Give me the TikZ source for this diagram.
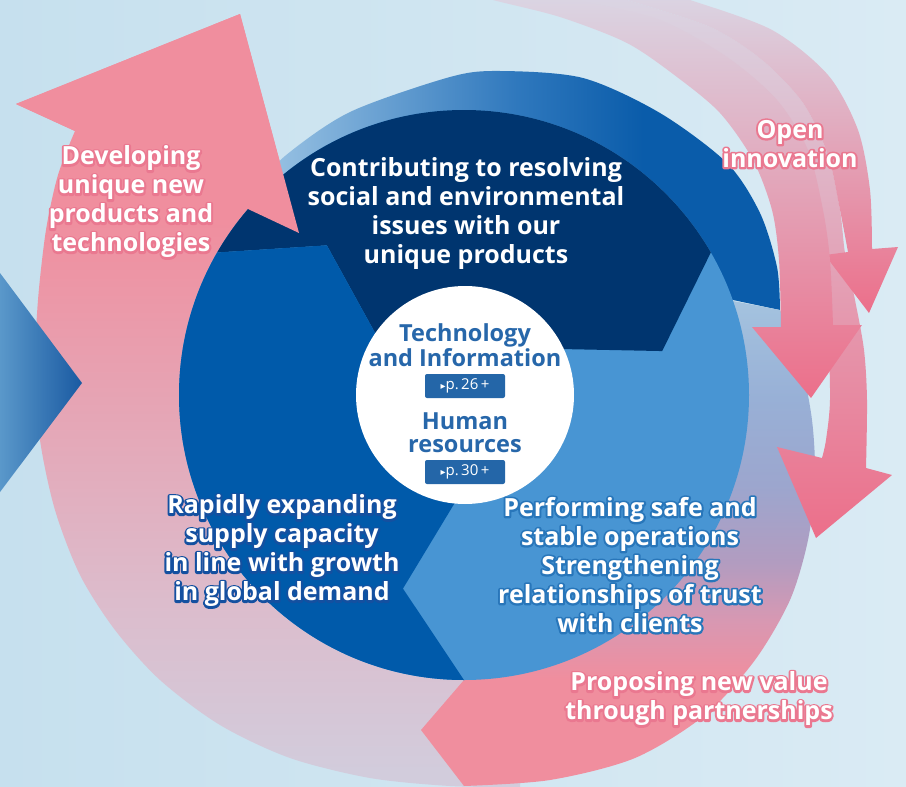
\documentclass[tikz,border=0pt]{standalone}
\usepackage{fontspec}
\setmainfont{Open Sans}
\newfontfamily\dejavu{DejaVu Sans}
\usetikzlibrary{calc}
\definecolor{bgL}{RGB}{198,224,238}
\definecolor{bgR}{RGB}{218,235,244}
\definecolor{navy}{RGB}{0,53,111}
\definecolor{midblue}{RGB}{0,90,170}
\definecolor{lightblue}{RGB}{72,149,211}
\definecolor{pinkA}{RGB}{240,142,158}
\definecolor{lbMid}{RGB}{230,164,180}
\definecolor{lbMid2}{RGB}{220,188,204}
\definecolor{lbLav}{RGB}{210,204,220}
\definecolor{ring1}{RGB}{150,192,226}
\definecolor{ring2}{RGB}{47,120,189}
\definecolor{ring3}{RGB}{10,92,170}
\definecolor{strongpink}{RGB}{236,111,138}
\definecolor{fadepink}{RGB}{218,214,228}
\definecolor{palepink}{RGB}{226,184,201}
\definecolor{midpink}{RGB}{230,160,182}
\definecolor{pr1}{RGB}{240,142,158}
\definecolor{pr2}{RGB}{216,152,178}
\definecolor{pr3}{RGB}{178,156,192}
\definecolor{pr4}{RGB}{156,166,206}
\definecolor{pr5}{RGB}{152,176,214}
\definecolor{pr6}{RGB}{164,195,223}
\definecolor{chevL}{RGB}{90,152,202}
\definecolor{chevR}{RGB}{26,90,162}
\definecolor{ctext}{RGB}{39,103,170}
\definecolor{btn}{RGB}{36,102,168}
\definecolor{glowL}{RGB}{20,80,160}
\definecolor{glowR}{RGB}{40,118,186}
\definecolor{glowP}{RGB}{234,120,144}
\pgfdeclareverticalshading{leftband}{100bp}{color(0bp)=(lbLav); color(26bp)=(lbLav); color(37bp)=(lbMid2); color(50bp)=(lbMid); color(62bp)=(pinkA); color(100bp)=(pinkA)}
\pgfdeclarehorizontalshading{ringsh}{100bp}{color(0bp)=(ring1); color(27bp)=(ring1); color(50bp)=(ring2); color(62bp)=(ring3); color(100bp)=(ring3)}
\pgfdeclareverticalshading{propsh}{100bp}{color(0bp)=(pr1); color(36bp)=(pr1); color(42bp)=(pr2); color(48bp)=(pr3); color(56bp)=(pr4); color(65bp)=(pr5); color(75bp)=(pr6); color(100bp)=(pr6)}
% outlined label: a stroked copy underneath, the white text on top
\newcommand\glowlabel[5]{%
  \node[#4, text=#3] (#1glow) at (#2) {\special{pdf:literal direct 2 Tr 4 w 1 j}#5};
  \node[#4, text=white] (#1) at (#2) {#5};
}
\begin{document}
\begin{tikzpicture}[x=1pt,y=-1pt,
  lbl/.style={align=center, inner sep=0pt, font=\bfseries\fontsize{25}{29}\selectfont},
  ctr/.style={align=center, inner sep=0pt, text=ctext, font=\bfseries\fontsize{23.5}{23}\selectfont},
  btnbox/.style={fill=btn, rounded corners=2pt, minimum width=80pt, minimum height=24pt, inner sep=0pt, text=white, font=\fontsize{15}{15}\selectfont}]
\useasboundingbox (0,0) rectangle (906,787);
\clip (0,0) rectangle (906,787);
\shade[left color=bgL, right color=bgR] (0,0) rectangle (906,787);
\coordinate (C) at (464,395);
% big left band
\shade[shading=leftband] (240,14) -- (299,233) -- (248,209) -- (464,395) -- (520,700) -- (520,787)
  -- plot[smooth] coordinates {(520,787) (450,786) (370,778) (290,758) (220,725) (160,680) (115,630) (80,575) (55,510) (40,440) (35,370) (38,300) (46,230) (58,175) (75,131)}
  -- (16,104) -- cycle;
% top ring
\shade[shading=ringsh] plot[smooth] coordinates {(255,190) (285,156) (350,112) (450,77) (500,71) (583,78) (660,113) (727,163) (760,213) (777,267) (780,310)}
  -- (733,300) -- plot[domain=-19.5:-138, samples=40] ({464+283*cos(\x)},{395+283*sin(\x)}) -- cycle;
% proposing band
\shade[shading=propsh] (421,730) -- (464,680) -- plot[domain=90:-19.5, samples=50] ({464+283*cos(\x)},{395+283*sin(\x)})
  -- (780,310) -- plot[smooth] coordinates {(780,310) (800,360) (812,420) (815,480) (808,540) (790,600) (755,660) (705,715) (635,758) (550,780) (464,786)} -- cycle;
% arrow C
\shade[top color=fadepink, middle color=palepink, bottom color=strongpink]
  plot[smooth] coordinates {(520,-8) (620,10) (700,45) (760,95) (795,150) (812,210) (822,270) (828,330) (830,400) (826,440) (822,458)}
  -- (777,447) -- (816,538) -- (892,475) -- (866,468)
  -- plot[smooth] coordinates {(866,468) (867,400) (864,350) (855,300) (845,253) (840,210) (828,155) (803,103) (762,60) (710,27) (627,0) (600,-8)} -- cycle;
% arrow B
\shade[top color=fadepink, middle color=midpink, bottom color=strongpink]
  plot[smooth] coordinates {(600,-8) (627,0) (710,27) (762,60) (803,103) (828,155) (840,210) (848,252)}
  -- (825,255) -- (869,313) -- (898,247) -- (872,249)
  -- plot[smooth] coordinates {(872,249) (870,190) (858,130) (828,75) (772,30) (690,0) (660,-8)} -- cycle;
% arrow A
\shade[top color=fadepink, middle color=strongpink, bottom color=strongpink]
  plot[smooth] coordinates {(470,-8) (493,0) (560,17) (627,43) (677,77) (720,113) (753,160) (772,210) (779,260) (781,327)}
  -- (752,327) -- (811,398) -- (862,325) -- (833,325)
  -- plot[smooth] coordinates {(833,325) (830,260) (823,210) (808,150) (777,100) (727,57) (660,20) (577,0) (545,-8)} -- cycle;
% disk
\begin{scope}[shift={(464,395)}]
  \clip (0,0) circle[radius=285];
  \fill[lightblue] (-300,-300) rectangle (300,300);
  \fill[navy] (0,0) -- (-146:105) -- (-132.5:203) -- ($(-132.5:203)!1.35!(-150:285)$) -- (-150:430) -- (-90:430) -- (-30:430) -- ($(-12.5:203)!1.35!(-30:285)$) -- (-12.5:203) -- (-26:105) -- cycle;
  \fill[midblue] (0,0) -- (94:105) -- (107.5:203) -- ($(107.5:203)!1.35!(90:285)$) -- (90:430) -- (150:430) -- (210:430) -- ($(-132.5:203)!1.35!(-150:285)$) -- (-132.5:203) -- (-146:105) -- cycle;
\end{scope}
% left arrow head on top
\fill[pinkA] (240,14) -- (299,233) -- (248,209) -- (75,131) -- (16,104) -- cycle;
% white hub
\fill[white] (465,395) circle[radius=109];
% blue chevron at left
\shade[left color=chevL, right color=chevR] (0,273) -- (82,383) -- (0,492) -- cycle;
% texts
\node[lbl, text=white] (navytext) at (466,214) {Contributing to resolving\\social and environmental\\issues with our\\unique products};
\node[ctr] (tech) at (465,345) {Technology\\and Information};
\node[btnbox] (btn1) at (465,386) {{\dejavu\fontsize{10}{10}\selectfont ▸}p.\,26\,+};
\node[ctr] (hr) at (465,433) {Human\\resources};
\node[btnbox] (btn2) at (465,472) {{\dejavu\fontsize{10}{10}\selectfont ▸}p.\,30\,+};
\glowlabel{dev}{131,202}{glowP}{lbl}{Developing\\unique new\\products and\\technologies}
\glowlabel{open}{790,144}{glowP}{lbl}{Open\\innovation}
\glowlabel{prop}{699,699}{glowP}{lbl}{Proposing new value\\through partnerships}
\glowlabel{rapid}{282,551}{glowL}{lbl}{Rapidly expanding\\supply capacity\\in line with growth\\in global demand}
\glowlabel{perf}{630,565}{glowR}{lbl}{Performing safe and\\stable operations\\Strengthening\\relationships of trust\\with clients}
\end{tikzpicture}
\end{document}
